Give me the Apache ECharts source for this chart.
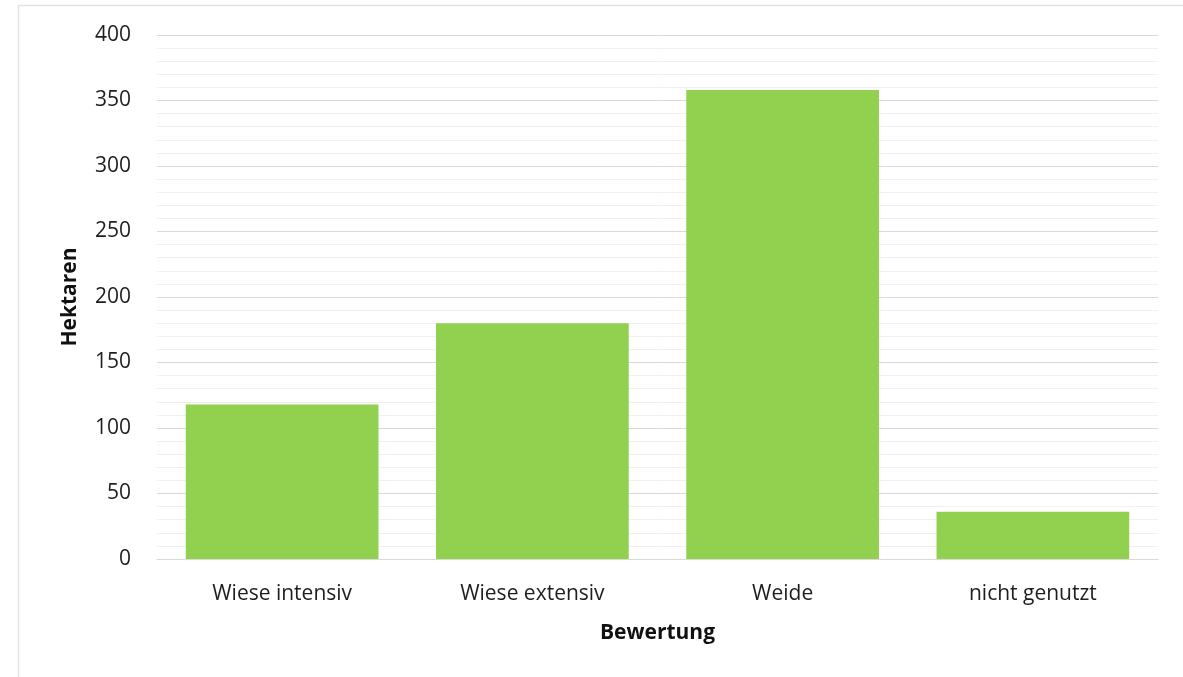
<!DOCTYPE html>
<html><head><meta charset="utf-8">
<script src="https://cdn.jsdelivr.net/npm/echarts@6/dist/echarts.min.js"></script>
<style>html,body{margin:0;padding:0;background:#fff}#c{width:1183px;height:677px}</style>
</head><body><div id="c"></div>
<script>
const categories = ['Wiese intensiv', 'Wiese extensiv', 'Weide', 'nicht genutzt'];
const values = [118, 180, 358, 36];
const yTicks = [0, 50, 100, 150, 200, 250, 300, 350, 400];
const xTitle = 'Bewertung';
const yTitle = 'Hektaren';

const font = '"Open Sans", "Noto Sans", sans-serif';
const chart = echarts.init(document.getElementById('c'));
chart.setOption({
  animation: false,
  backgroundColor: '#fff',
  graphic: [{
    type: 'rect', shape: {x: 18.5, y: 5.5, width: 2000, height: 2000},
    style: {fill: 'none', stroke: '#e3e3e3', lineWidth: 1.5}, silent: true, z: -10
  }],
  grid: {left: 157, right: 25, top: 35, bottom: 118},
  xAxis: {
    type: 'category', data: categories,
    axisLine: {lineStyle: {color: '#d9d9d9', width: 1}},
    axisTick: {show: false},
    axisLabel: {color: '#1e1e1e', fontSize: 21, fontFamily: font, margin: 25},
    name: xTitle, nameLocation: 'middle', nameGap: 64,
    nameTextStyle: {color: '#111', fontSize: 21, fontWeight: 'bold', fontFamily: font}
  },
  yAxis: {
    type: 'value', min: yTicks[0], max: yTicks[yTicks.length - 1], interval: 50,
    axisLine: {show: false}, axisTick: {show: false},
    axisLabel: {color: '#1e1e1e', fontSize: 21, fontFamily: font, margin: 26},
    splitLine: {lineStyle: {color: '#d9d9d9', width: 1}},
    minorTick: {show: false, splitNumber: 5},
    minorSplitLine: {show: true, lineStyle: {color: '#f0f0f0', width: 1}},
    name: yTitle, nameLocation: 'middle', nameGap: 76, nameRotate: 90,
    nameTextStyle: {color: '#111', fontSize: 21, fontWeight: 'bold', fontFamily: font}
  },
  series: [{
    type: 'bar', data: values, barCategoryGap: '23%',
    itemStyle: {color: '#92D050'}
  }]
});
</script></body></html>
